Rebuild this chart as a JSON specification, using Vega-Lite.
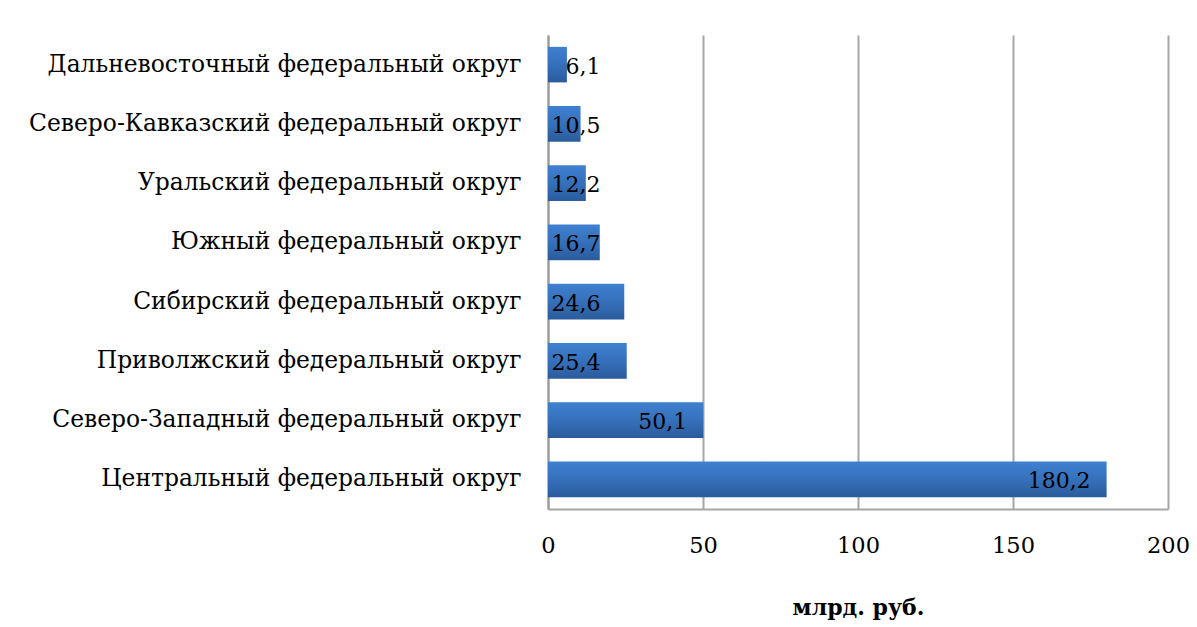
{
  "$schema": "https://vega.github.io/schema/vega-lite/v6.json",
  "autosize": "none",
  "width": 620,
  "height": 474,
  "padding": {"left": 548, "top": 35, "right": 29, "bottom": 118},
  "background": "white",
  "config": {
    "view": {"stroke": null},
    "font": "DejaVu Serif"
  },
  "data": {
    "values": [
      {"okrug": "Дальневосточный федеральный округ", "value": 6.1, "label": "6,1"},
      {"okrug": "Северо-Кавказский федеральный округ", "value": 10.5, "label": "10,5"},
      {"okrug": "Уральский федеральный округ", "value": 12.2, "label": "12,2"},
      {"okrug": "Южный федеральный округ", "value": 16.7, "label": "16,7"},
      {"okrug": "Сибирский федеральный округ", "value": 24.6, "label": "24,6"},
      {"okrug": "Приволжский федеральный округ", "value": 25.4, "label": "25,4"},
      {"okrug": "Северо-Западный федеральный округ", "value": 50.1, "label": "50,1"},
      {"okrug": "Центральный федеральный округ", "value": 180.2, "label": "180,2"}
    ]
  },
  "encoding": {
    "y": {
      "field": "okrug",
      "type": "nominal",
      "sort": null,
      "scale": {"paddingInner": 0.4, "paddingOuter": 0.2},
      "axis": {
        "title": null,
        "ticks": false,
        "domain": true,
        "domainColor": "#9a9a9a",
        "domainWidth": 2,
        "labelFont": "DejaVu Serif",
        "labelFontSize": 23.4,
        "labelColor": "#000000",
        "labelPadding": 27,
        "labelLimit": 600
      }
    }
  },
  "layer": [
    {
      "mark": {
        "type": "bar",
        "color": {
          "gradient": "linear",
          "x1": 0, "y1": 0, "x2": 0, "y2": 1,
          "stops": [
            {"offset": 0, "color": "#3f80d0"},
            {"offset": 0.5, "color": "#3670bb"},
            {"offset": 1, "color": "#2a5c9c"}
          ]
        }
      },
      "encoding": {
        "x": {
          "field": "value",
          "type": "quantitative",
          "scale": {"domain": [0, 200], "nice": false},
          "axis": {
            "values": [0, 50, 100, 150, 200],
            "grid": true,
            "gridColor": "#a6a6a6",
            "gridWidth": 2,
            "domain": true,
            "domainColor": "#a6a6a6",
            "domainWidth": 2,
            "ticks": false,
            "labelFont": "DejaVu Serif",
            "labelFontSize": 22.5,
            "labelColor": "#000000",
            "labelPadding": 25,
            "labelFlush": false,
            "title": "млрд. руб.",
            "titleFont": "DejaVu Serif",
            "titleFontSize": 22,
            "titleFontWeight": "bold",
            "titleColor": "#000000",
            "titlePadding": 41
          }
        }
      }
    },
    {
      "transform": [{"filter": "datum.value < 30"}],
      "mark": {"type": "text", "align": "right", "baseline": "middle", "fontSize": 22, "font": "DejaVu Serif", "color": "#000000", "dy": 2},
      "encoding": {
        "x": {"datum": 16.9, "type": "quantitative"},
        "text": {"field": "label"}
      }
    },
    {
      "transform": [{"filter": "datum.value >= 30"}],
      "mark": {"type": "text", "align": "right", "baseline": "middle", "fontSize": 22, "font": "DejaVu Serif", "color": "#000000", "dx": -16, "dy": 2},
      "encoding": {
        "x": {"field": "value", "type": "quantitative"},
        "text": {"field": "label"}
      }
    }
  ]
}
